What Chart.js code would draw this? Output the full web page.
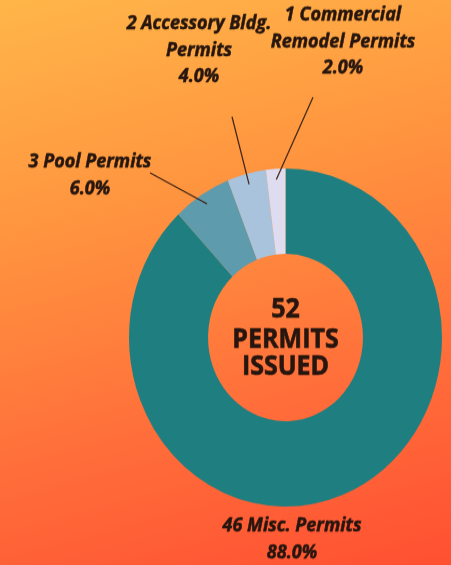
<!DOCTYPE html>
<html>
<head>
<meta charset="utf-8">
<script src="https://cdn.jsdelivr.net/npm/chart.js@4"></script>
<style>
  html, body { margin: 0; padding: 0; }
  body {
    width: 451px; height: 565px; overflow: hidden;
    background: linear-gradient(165deg, #ffb649 0%, #ff943f 35%, #ff6d3a 70%, #ff5032 100%);
  }
  /* the original picture is a little taller than wide */
  #wrap { width: 451px; height: 523px; transform: scaleY(1.08); transform-origin: 0 0; }
</style>
</head>
<body>
<div id="wrap"><canvas id="permitChart"></canvas></div>
<script>
// permit types, clockwise from 12 o'clock
const categories = ['Misc. Permits', 'Pool Permits', 'Accessory Bldg. Permits', 'Commercial Remodel Permits'];
const labelLines = [['Misc. Permits'], ['Pool Permits'], ['Accessory Bldg.', 'Permits'], ['Commercial', 'Remodel Permits']];
const counts = [46, 3, 2, 1];
const percents = [88.0, 6.0, 4.0, 2.0];
const totalIssued = 52;
const sliceColors = ['#1f7f80', '#5e9bad', '#a9c3dc', '#dedcee'];

// where each outside label sits (canvas px) and where its leader line ends
const labelSpots = [
  { x: 292, y: 487, line: null },
  { x: 90, y: 150, line: [150, 160] },
  { x: 199, y: 22, line: [232, 108] },
  { x: 343, y: 14, line: [313, 90] }
];

const textColor = '#26160f';

const outsideLabels = {
  id: 'outsideLabels',
  afterDraw(chart) {
    const ctx = chart.ctx;
    const arcs = chart.getDatasetMeta(0).data;
    ctx.save();
    arcs.forEach(function(arc, i){
      const p = arc.getProps(['x', 'y', 'startAngle', 'endAngle', 'outerRadius']);
      const spot = labelSpots[i];
      if (spot.line){
        const mid = (p.startAngle + p.endAngle) / 2;
        const r = p.outerRadius - 10;
        ctx.beginPath();
        ctx.strokeStyle = '#3a2216';
        ctx.lineWidth = 1.2;
        ctx.moveTo(spot.line[0], spot.line[1]);
        ctx.lineTo(p.x + Math.cos(mid) * r, p.y + Math.sin(mid) * r);
        ctx.stroke();
      }
      const lines = labelLines[i].slice();
      lines[0] = counts[i] + ' ' + lines[0];
      lines.push(percents[i].toFixed(1) + '%');
      ctx.fillStyle = textColor;
      ctx.strokeStyle = textColor;
      ctx.lineWidth = 0.5;
      ctx.font = 'italic bold 18px "Open Sans"';
      ctx.textAlign = 'center';
      ctx.textBaseline = 'middle';
      lines.forEach(function(t, k){
        ctx.fillText(t, spot.x, spot.y + k * 24.5);
        ctx.strokeText(t, spot.x, spot.y + k * 24.5);
      });
    });

    // centre text
    const c = arcs[0];
    ctx.font = 'bold 25px "Open Sans"';
    ctx.lineWidth = 0.6;
    [[String(totalIssued), -26], ['PERMITS', 2], ['ISSUED', 27]].forEach(function(row){
      ctx.fillText(row[0], c.x, c.y + row[1]);
      ctx.strokeText(row[0], c.x, c.y + row[1]);
    });
    ctx.restore();
  }
};

const data = {
  labels: categories,
  datasets: [{
    data: percents,
    backgroundColor: sliceColors,
    borderWidth: 0,
    hoverOffset: 0
  }]
};

const config = {
  type: 'doughnut',
  data,
  options: {
    responsive: true,
    maintainAspectRatio: false,
    animation: false,
    events: [],
    cutout: '49.5%',
    layout: { padding: { left: 129, right: 9, top: 156, bottom: 54 } },
    plugins: {
      legend: { display: false },
      tooltip: { enabled: false }
    }
  },
  plugins: [outsideLabels]
};

var permitChart = new Chart(document.getElementById('permitChart'), config);
</script>
</body>
</html>
